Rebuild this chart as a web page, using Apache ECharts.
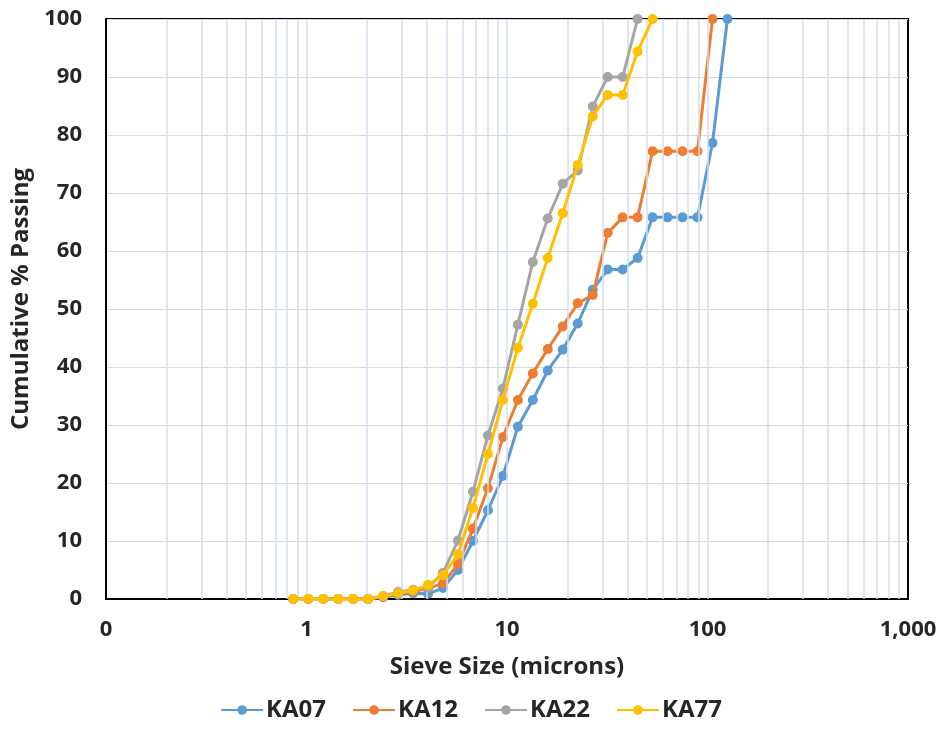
<!DOCTYPE html>
<html>
<head>
<meta charset="utf-8">
<script src="https://cdn.jsdelivr.net/npm/echarts@6/dist/echarts.min.js"></script>
<style>
html,body{margin:0;padding:0;background:#fff;}
#chart{width:942px;height:749px;}
</style>
</head>
<body>
<div id="chart"></div>
<script>
// Sieve sizes (microns)
const sizes = [0.859, 1.021, 1.212, 1.439, 1.709, 2.030, 2.411, 2.863, 3.401, 4.038,
  4.796, 5.695, 6.764, 8.033, 9.537, 11.33, 13.45, 15.97, 18.97, 22.53,
  26.76, 31.78, 37.74, 44.82, 53.21, 63.19, 75.05, 89.13, 105.9, 125.7];
const ka07 = [0, 0, 0, 0, 0, 0, 0.3, 0.7, 1.0, 0.9, 1.9, 5.0, 10.0, 15.3, 21.2, 29.7, 34.3, 39.4, 43.0, 47.5,
  53.3, 56.8, 56.8, 58.8, 65.8, 65.8, 65.8, 65.8, 78.6, 100];
const ka12 = [0, 0, 0, 0, 0, 0, 0.4, 0.9, 1.3, 1.8, 2.7, 6.0, 12.1, 19.1, 27.9, 34.3, 38.9, 43.1, 47.0, 51.0,
  52.4, 63.1, 65.8, 65.8, 77.2, 77.2, 77.2, 77.2, 100];
const ka22 = [0, 0, 0, 0, 0, 0, 0.5, 1.2, 1.6, 2.0, 4.5, 10.1, 18.5, 28.2, 36.3, 47.3, 58.1, 65.6, 71.6, 73.9,
  84.9, 90.0, 90.0, 100];
const ka77 = [0, 0, 0, 0, 0, 0, 0.5, 1.0, 1.5, 2.4, 4.1, 7.7, 15.7, 25.0, 34.3, 43.3, 50.9, 58.8, 66.5, 74.8,
  83.2, 86.9, 86.9, 94.4, 100];
const seriesNames = ['KA07', 'KA12', 'KA22', 'KA77'];
const seriesValues = [ka07, ka12, ka22, ka77];
const colors = ['#5B9BD5', '#ED7D31', '#A5A5A5', '#FFC000'];

// log-scale minor/major vertical gridline positions
const gridPositions = [];
[0.1, 1, 10, 100].forEach(d => { for (let k = 1; k <= 9; k++) { if (!(d === 0.1 && k === 1)) gridPositions.push(+(d * k).toPrecision(3)); } });

const FONT = 'Open Sans';
const TXT = '#262626';
const chart = echarts.init(document.getElementById('chart'));

const series = [{
  type: 'line', name: '__grid', data: [], silent: true, z: 1,
  markLine: {
    silent: true, symbol: 'none', label: { show: false }, animation: false,
    lineStyle: { color: '#d3deed', width: 1.5, type: 'solid' },
    emphasis: { disabled: true },
    data: gridPositions.map(v => ({ xAxis: v }))
  }
}];
seriesNames.forEach((n, i) => {
  series.push({
    type: 'line', name: n, z: 3 + i,
    data: seriesValues[i].map((v, j) => [sizes[j], v]),
    symbol: 'circle', symbolSize: 10, showSymbol: true,
    lineStyle: { width: 3, color: colors[i] },
    itemStyle: { color: colors[i] },
    animation: false
  });
});

chart.setOption({
  animation: false,
  color: colors,
  grid: { left: 106, right: 34, top: 19, bottom: 150, show: true, borderColor: '#000', borderWidth: 2, backgroundColor: 'transparent' },
  xAxis: {
    type: 'log', logBase: 10, min: 0.1, max: 1000,
    name: 'Sieve Size (microns)', nameLocation: 'middle', nameGap: 56,
    nameTextStyle: { fontFamily: FONT, fontWeight: 'bold', fontSize: 24, color: TXT },
    axisLine: { show: true, lineStyle: { color: '#000', width: 2 } },
    axisTick: { show: false },
    splitLine: { show: false },
    axisLabel: {
      margin: 20, fontFamily: FONT, fontWeight: 'bold', fontSize: 22, color: TXT,
      formatter: v => (v < 1 ? '0' : Math.round(v).toLocaleString('en-US'))
    }
  },
  yAxis: {
    type: 'value', min: 0, max: 100, interval: 10,
    name: 'Cumulative % Passing', nameLocation: 'middle', nameGap: 68,
    nameTextStyle: { fontFamily: FONT, fontWeight: 'bold', fontSize: 24, color: TXT, padding: [0, 0, 0, 20] },
    axisLine: { show: true, lineStyle: { color: '#000', width: 2 } },
    axisTick: { show: false },
    splitLine: { show: true, lineStyle: { color: '#d9d9d9', width: 1 } },
    axisLabel: { margin: 24, fontFamily: FONT, fontWeight: 'bold', fontSize: 22, color: TXT }
  },
  legend: {
    data: seriesNames, bottom: 22, left: 'center', itemGap: 26, itemWidth: 42, itemHeight: 12,
    textStyle: { fontFamily: FONT, fontWeight: 'bold', fontSize: 24, color: TXT, padding: [0, 0, 0, -2] }
  },
  series: series
});
</script>
</body>
</html>
